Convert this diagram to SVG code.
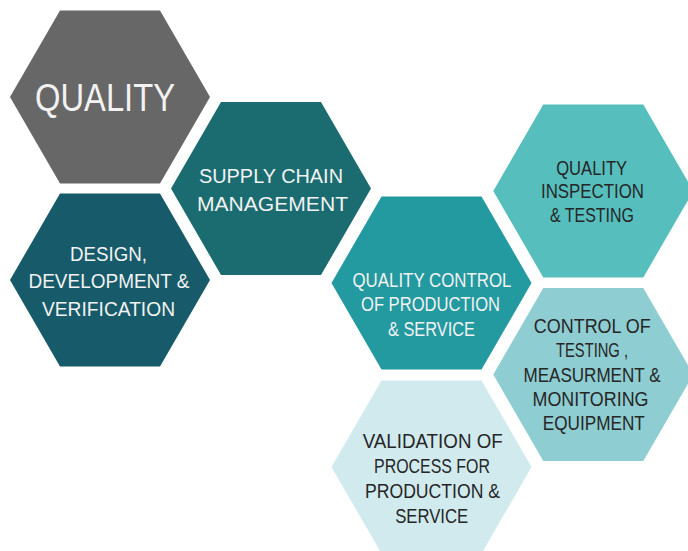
<svg xmlns="http://www.w3.org/2000/svg" xmlns:xlink="http://www.w3.org/1999/xlink" width="688" height="551" viewBox="0 0 688 551">
<style>
text{font-family:"Liberation Sans","Open Sans",Arial,sans-serif;text-anchor:middle;font-size:20px;}
.lt{fill:#f2f2f2;}
.dk{fill:#262626;}
.big{font-size:39px;}
</style>
<defs>
<polygon id="hex" points="-100,0 -50,-86.5 50,-86.5 100,0 50,86.5 -50,86.5"/>
</defs>
<rect width="688" height="551" fill="#ffffff"/>
<g id="quality">
<use xlink:href="#hex" href="#hex" transform="translate(110,97)" fill="#676767"/>
<text class="lt big" x="105" y="111" textLength="140" lengthAdjust="spacingAndGlyphs">QUALITY</text>
</g>
<g id="supply-chain">
<use xlink:href="#hex" href="#hex" transform="translate(271,188.5)" fill="#1b6c70"/>
<text class="lt" x="271" y="183" textLength="144" lengthAdjust="spacingAndGlyphs">SUPPLY CHAIN</text>
<text class="lt" x="272.5" y="210.5" textLength="151" lengthAdjust="spacingAndGlyphs">MANAGEMENT</text>
</g>
<g id="design">
<use xlink:href="#hex" href="#hex" transform="translate(110,280)" fill="#175a69"/>
<text class="lt" x="108.5" y="261" textLength="77" lengthAdjust="spacingAndGlyphs">DESIGN,</text>
<text class="lt" x="109" y="288.3" textLength="161" lengthAdjust="spacingAndGlyphs">DEVELOPMENT &amp;</text>
<text class="lt" x="108.5" y="315.5" textLength="133" lengthAdjust="spacingAndGlyphs">VERIFICATION</text>
</g>
<g id="quality-control">
<use xlink:href="#hex" href="#hex" transform="translate(431.5,283)" fill="#2399a0"/>
<text class="lt" x="432" y="286.7" textLength="159" lengthAdjust="spacingAndGlyphs">QUALITY CONTROL</text>
<text class="lt" x="430.5" y="310.7" textLength="139" lengthAdjust="spacingAndGlyphs">OF PRODUCTION</text>
<text class="lt" x="431.5" y="335.7" textLength="87" lengthAdjust="spacingAndGlyphs">&amp; SERVICE</text>
</g>
<g id="validation">
<use xlink:href="#hex" href="#hex" transform="translate(431.5,467)" fill="#d1eaee"/>
<text class="dk" x="432.7" y="448.3" textLength="140" lengthAdjust="spacingAndGlyphs">VALIDATION OF</text>
<text class="dk" x="432" y="473.3" textLength="116" lengthAdjust="spacingAndGlyphs">PROCESS FOR</text>
<text class="dk" x="432.5" y="498.3" textLength="135" lengthAdjust="spacingAndGlyphs">PRODUCTION &amp;</text>
<text class="dk" x="431.7" y="522.7" textLength="73" lengthAdjust="spacingAndGlyphs">SERVICE</text>
</g>
<g id="inspection">
<use xlink:href="#hex" href="#hex" transform="translate(593.3,191)" fill="#56bfbd"/>
<text class="dk" x="591.7" y="175" textLength="71" lengthAdjust="spacingAndGlyphs">QUALITY</text>
<text class="dk" x="592.5" y="198.3" textLength="103" lengthAdjust="spacingAndGlyphs">INSPECTION</text>
<text class="dk" x="592" y="222.3" textLength="84" lengthAdjust="spacingAndGlyphs">&amp; TESTING</text>
</g>
<g id="control-testing">
<use xlink:href="#hex" href="#hex" transform="translate(593.3,374.5)" fill="#8ecdd1"/>
<text class="dk" x="592.3" y="333.3" textLength="117" lengthAdjust="spacingAndGlyphs">CONTROL OF</text>
<text class="dk" x="592" y="357.3" textLength="72" lengthAdjust="spacingAndGlyphs">TESTING ,</text>
<text class="dk" x="592" y="381.7" textLength="137" lengthAdjust="spacingAndGlyphs">MEASURMENT &amp;</text>
<text class="dk" x="590.5" y="406" textLength="116" lengthAdjust="spacingAndGlyphs">MONITORING</text>
<text class="dk" x="593.8" y="430" textLength="102" lengthAdjust="spacingAndGlyphs">EQUIPMENT</text>
</g>
</svg>
